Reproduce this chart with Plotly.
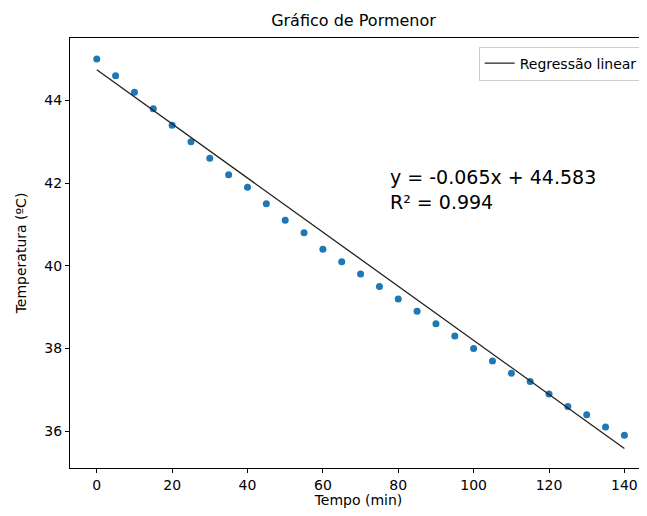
import plotly.graph_objects as go

tempo = [0, 5, 10, 15, 20, 25, 30, 35, 40, 45, 50, 55, 60, 65, 70, 75, 80, 85,
         90, 95, 100, 105, 110, 115, 120, 125, 130, 135, 140]
temperatura = [45.0, 44.6, 44.2, 43.8, 43.4, 43.0, 42.6, 42.2, 41.9, 41.5, 41.1,
               40.8, 40.4, 40.1, 39.8, 39.5, 39.2, 38.9, 38.6, 38.3, 38.0, 37.7,
               37.4, 37.2, 36.9, 36.6, 36.4, 36.1, 35.9]
reg_x = [0, 140]
reg_y = [44.74, 35.58]
eq_text = "y = -0.065x + 44.583<br>R² = 0.994"
x_ticks = [0, 20, 40, 60, 80, 100, 120, 140]
y_ticks = [36, 38, 40, 42, 44]

font = "DejaVu Sans"
# page body has an 8px default margin, so the figure is sized to fit the window
W, H = 639, 500
L, R, T, B = 62, 0, 29.5, 39.7

fig = go.Figure()
fig.add_trace(go.Scatter(x=tempo, y=temperatura, mode="markers",
                         marker=dict(color="#1f77b4", size=7),
                         showlegend=False))
fig.add_trace(go.Scatter(x=reg_x, y=reg_y, mode="lines",
                         line=dict(color="#222222", width=1.3),
                         name="Regressão linear"))

fig.add_annotation(x=77.4, y=42.46, xref="x", yref="y", text=eq_text,
                   showarrow=False, xanchor="left", yanchor="top", align="left",
                   font=dict(family=font, size=19, color="black"))

axis_common = dict(showgrid=False, zeroline=False, showline=True,
                   linecolor="black", linewidth=1, ticks="outside", ticklen=4,
                   tickcolor="black", tickfont=dict(family=font, size=14, color="black"),
                   automargin=False)
fig.update_xaxes(range=[-7.1, 146.0], tickvals=x_ticks, mirror=True,
                 title=dict(text="Tempo (min)", font=dict(family=font, size=14, color="black"), standoff=4),
                 **axis_common)
fig.update_yaxes(range=[35.11, 45.51], tickvals=y_ticks, mirror=False,
                 title=dict(text="Temperatura (ºC)", font=dict(family=font, size=14, color="black"), standoff=14),
                 **axis_common)

fig.update_layout(
    width=W, height=H,
    margin=dict(l=L, r=R, t=T, b=B, autoexpand=False),
    plot_bgcolor="white", paper_bgcolor="white",
    title=dict(text="Gráfico de Pormenor", x=345.5 / W, xanchor="center",
               y=1 - 12 / H, yanchor="middle",
               font=dict(family=font, size=16, color="black")),
    legend=dict(x=0.9925, y=0.980, xanchor="right", yanchor="top",
                bordercolor="#cccccc", borderwidth=1, bgcolor="white",
                font=dict(family=font, size=14, color="black")),
)
fig.write_html("out.html")
